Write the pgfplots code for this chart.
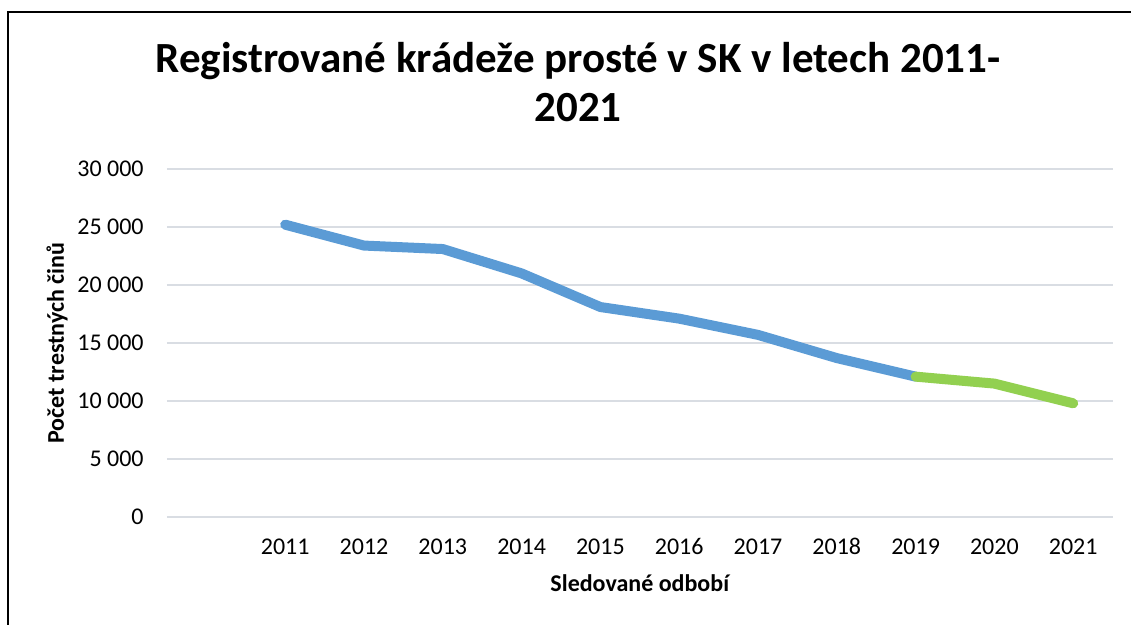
\documentclass[border=0pt]{standalone}
\usepackage{pgfplots}
\pgfplotsset{compat=1.18}
\usepackage{fontspec}
\setmainfont{Carlito}
\definecolor{blueline}{HTML}{5B9BD5}
\definecolor{greenline}{HTML}{92D050}
\definecolor{gridc}{HTML}{D9DDE3}
\begin{document}
\begin{tikzpicture}[x=1pt,y=1pt]
\useasboundingbox (-83.5,-54) rectangle (482,258.5);
\begin{axis}[
  at={(0,0)}, anchor=south west,
  scale only axis,
  width=472.8pt, height=174pt,
  xmin=-0.5, xmax=11.5,
  ymin=0, ymax=30000,
  scaled y ticks=false,
  xtick={1,2,3,4,5,6,7,8,9,10,11},
  xticklabels={2011,2012,2013,2014,2015,2016,2017,2018,2019,2020,2021},
  ytick={0,5000,10000,15000,20000,25000,30000},
  yticklabels={0,{5 000},{10 000},{15 000},{20 000},{25 000},{30 000}},
  major tick length=0pt,
  axis line style={draw=none},
  ymajorgrids,
  grid style={gridc, line width=1.2pt},
  tick label style={font=\fontsize{12}{14}\selectfont, text=black},
  xticklabel style={inner sep=0pt, anchor=base, yshift=-19pt},
  yticklabel style={inner sep=0pt, anchor=east, xshift=-11.5pt},
  xlabel={Sledované odbobí},
  ylabel={Počet trestných činů},
  xlabel style={at={(axis description cs:0.5,0)}, anchor=base, yshift=-37.3pt, font=\fontsize{12}{14}\selectfont\bfseries},
  ylabel style={at={(axis description cs:-0.1163,0.5)}, anchor=center, rotate=0, font=\fontsize{12}{14}\selectfont\bfseries},
  clip=false,
]
\addplot[blueline, line width=5pt, line cap=round, line join=round] coordinates {
  (1,25200) (2,23400) (3,23100) (4,21000) (5,18100) (6,17100) (7,15700) (8,13700) (9,12100)
};
\addplot[greenline, line width=5pt, line cap=round, line join=round] coordinates {
  (9,12100) (10,11500) (11,9800)
};
\end{axis}
\node[anchor=base, font=\fontsize{21.5}{25}\selectfont\bfseries, inner sep=0pt] at (205.5,222) {Registrované krádeže prosté v SK v letech 2011-};
\node[anchor=base, font=\fontsize{21.5}{25}\selectfont\bfseries, inner sep=0pt] at (205.5,197.5) {2021};
\draw[line width=1pt, black] (-79.5,-70) -- (-79.5,252.5) -- (500,252.5);
\end{tikzpicture}
\end{document}
